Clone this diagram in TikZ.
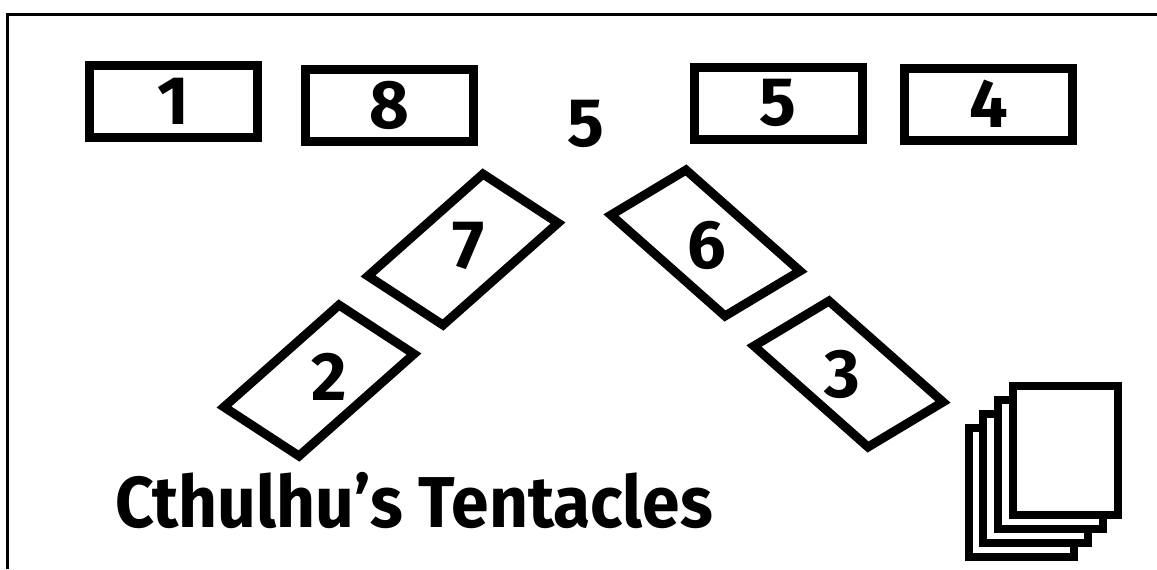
\documentclass[tikz,border=0pt]{standalone}
\usepackage{fontspec}
\setmainfont{Fira Sans}
\newcommand{\numfont}{\fontsize{39}{40}\selectfont\bfseries}
\newcommand{\titlefont}{\fontsize{41}{44}\selectfont\bfseries}

\begin{document}
\begin{tikzpicture}[x=0.2mm, y=-0.2mm, line join=miter,
    slot/.style={draw, line width=1.8mm, minimum width=33.6mm,
                 minimum height=14.4mm, inner sep=0pt, font=\numfont},
    card/.style={draw, line width=1.8mm},
    num/.style={inner sep=0pt, font=\numfont},
    deck/.style={draw, fill=white, line width=1.6mm,
                 minimum width=21mm, minimum height=25.8mm, inner sep=0pt}]
  \useasboundingbox (0,0) rectangle (1157,569);
  % frame
  \draw[line width=0.6mm] (7,569) -- (7,14) -- (1157,14);
  % top row
  \node[slot] (s1) at (173.5,101.5) {1};
  \node[slot] (s8) at (389,105.5) {8};
  \node[num] (free) at (585.5,124) {5};
  \node[slot] (s5) at (778,103) {5};
  \node[slot] (s4) at (988.5,104) {4};
  % left arm
  \draw[card] (368,276) -- ++(115,-102) -- ++(75,49) -- ++(-115,102) -- cycle;
  \node[num] (n7) at (469,246) {7};
  \draw[card] (224,407) -- ++(115,-102) -- ++(75,49) -- ++(-115,102) -- cycle;
  \node[num] (n2) at (329,377) {2};
  % right arm
  \draw[card] (611,215) -- ++(75,-45) -- ++(114,101) -- ++(-75,45) -- cycle;
  \node[num] (n6) at (707,245) {6};
  \draw[card] (754,346) -- ++(75,-45) -- ++(114,101) -- ++(-75,45) -- cycle;
  \node[num] (n3) at (842,374) {3};
  % deck
  \node[deck] (d4) at (1021,492) {};
  \node[deck] (d3) at (1035.7,478.3) {};
  \node[deck] (d2) at (1050.4,464.6) {};
  \node[deck] (d1) at (1065.1,450.9) {};
  % title
  \node[anchor=base west, inner sep=0pt, font=\titlefont] (title)
       at (115,527) {\scalebox{0.94}[1]{Cthulhu’s Tentacles}};
\end{tikzpicture}
\end{document}
